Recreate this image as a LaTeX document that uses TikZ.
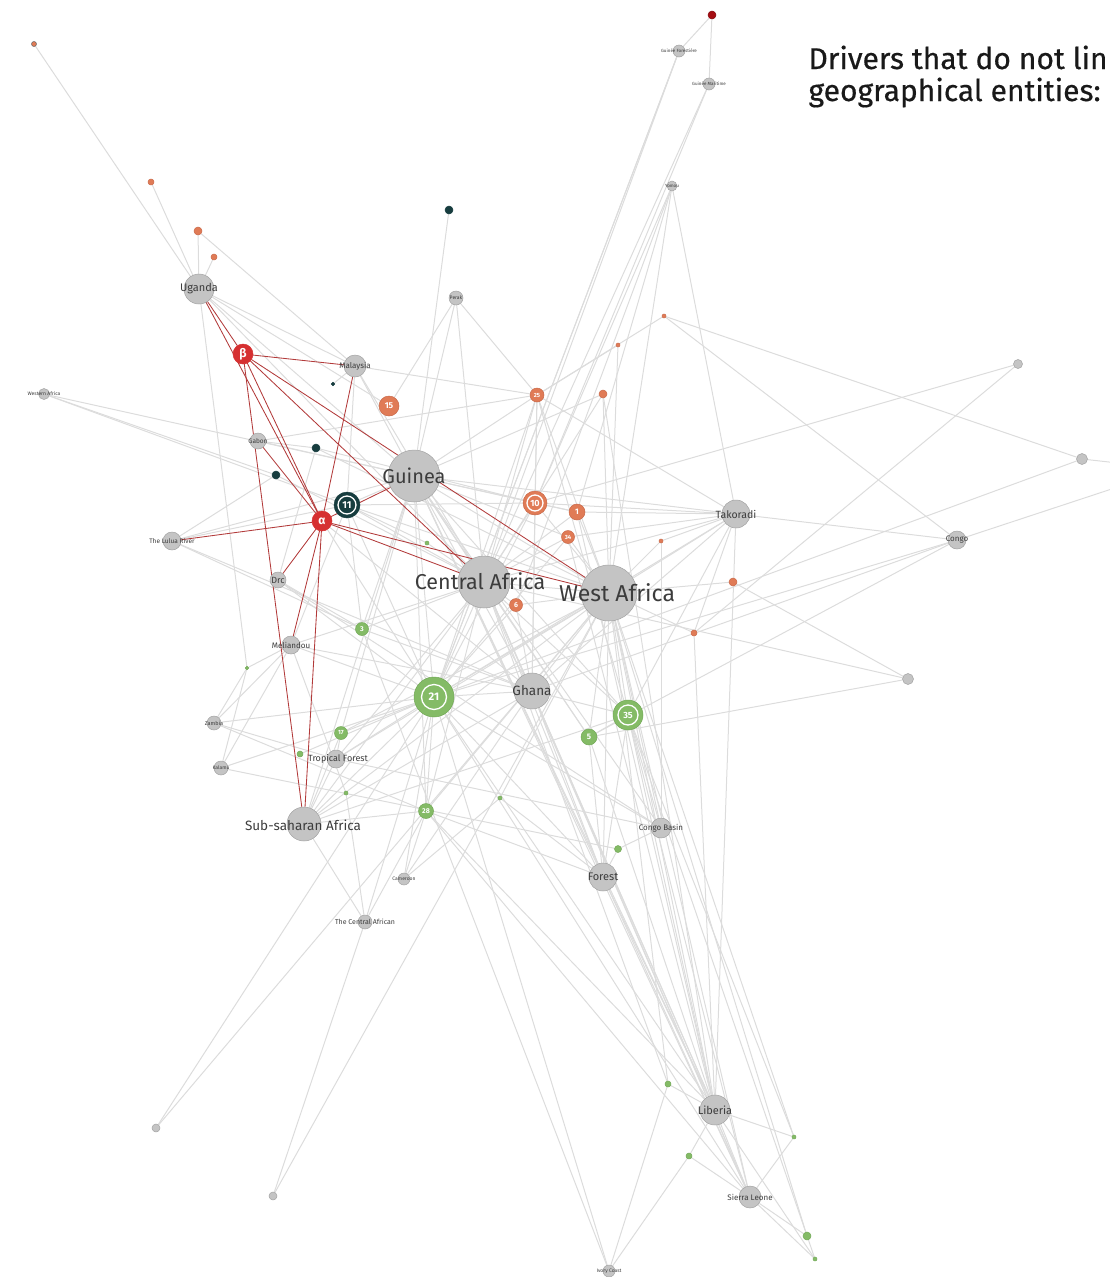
\documentclass[tikz,border=0pt]{standalone}
\usepackage{fontspec}
\setmainfont{Fira Sans}
\newfontfamily\titlefont[FakeBold=0.5]{Fira Sans}
\pgfdeclarelayer{bg}
\pgfsetlayers{bg,main}
\definecolor{edgec}{HTML}{DCDCDC}
\definecolor{redl}{HTML}{B23A3A}
\definecolor{ngray}{HTML}{C4C4C4}
\definecolor{ngrayd}{HTML}{A2A2A2}
\definecolor{orng}{HTML}{E07B56}
\definecolor{orngd}{HTML}{C9694A}
\definecolor{grn}{HTML}{84BB66}
\definecolor{grnd}{HTML}{72A857}
\definecolor{teal}{HTML}{173D3F}
\definecolor{redn}{HTML}{D63031}
\definecolor{dred}{HTML}{A50D12}
\definecolor{labelc}{HTML}{3C3C3C}
\newcommand\fsz[1]{\fontsize{#1}{#1}\selectfont}
\begin{document}
\begin{tikzpicture}[x=1pt,y=-1pt,
  nd/.style={circle,inner sep=0pt,outer sep=0pt,line width=0.5pt,minimum size={2*#1 pt}},
  gn/.style={nd=#1,fill=ngray,draw=ngrayd},
  on/.style={nd=#1,fill=orng,draw=orngd},
  grn/.style={nd=#1,fill=grn,draw=grnd},
  tn/.style={nd=#1,fill=teal,draw=teal},
  rn/.style={nd=#1,fill=redn,draw=redn},
  ring/.style={path picture={\draw[white,line width=1.3pt] (path picture bounding box.center) circle[radius=#1pt];}},
  nlab/.style 2 args={label={[text=labelc,font=\fsz{#2},inner sep=0pt]center:#1}},
  num/.style={text=white,font=\fsz{#1}\bfseries},
  edge/.style={draw=edgec,line width=1pt},
  redge/.style={draw=redl,line width=0.85pt},
  title/.style={anchor=base west,font=\titlefont\fsz{30},text=black!90}
]
\useasboundingbox (0,0) rectangle (1109,1277);
\clip (0,0) rectangle (1109,1277);

% title
\node[title] (t1) at (805,69) {Drivers that do not lin};
\node[title] (t2) at (805,101) {geographical entities:};

% gray (place) nodes
\node[gn=15,nlab={Uganda}{11}] (ug) at (199,289) {};
\node[gn=11,nlab={Malaysia}{8}] (my) at (355,366) {};
\node[gn=7,nlab={Perak}{5}] (pk) at (456,298) {};
\node[gn=5.5,nlab={Western Africa}{5}] (wz) at (44,394) {};
\node[gn=8,nlab={Gabon}{6.5}] (gb) at (258,441) {};
\node[gn=9,nlab={The Lulua River}{6.5}] (llr) at (172,541) {};
\node[gn=8,nlab={Drc}{9}] (drc) at (278,580) {};
\node[gn=9,nlab={Meliandou}{8}] (mel) at (291,645) {};
\node[gn=26,nlab={Guinea}{20}] (gui) at (414,476) {};
\node[gn=26] (ca) at (484,582) {};
\node[gn=28] (wa) at (609,593) {};
\node[gn=14,nlab={Takoradi}{10.5}] (tk) at (736,514) {};
\node[gn=9,nlab={Congo}{8}] (cg) at (957,540) {};
\node[gn=4.5] (gA) at (1018,364) {};
\node[gn=5.5] (gB) at (1082,459) {};
\node[gn=5.5] (gC) at (908,679) {};
\node[gn=18,nlab={Ghana}{13.5}] (gh) at (532,691) {};
\node[gn=7,nlab={Zambia}{5.5}] (zm) at (214,723) {};
\node[gn=7,nlab={Kalamu}{5}] (kl) at (221,768) {};
\node[gn=9] (tf) at (336,759) {};
\node[gn=17] (ssa) at (304,824) {};
\node[gn=6,nlab={Cameroon}{5}] (cm) at (404,879) {};
\node[gn=7,nlab={The Central African}{7}] (tca) at (365,922) {};
\node[gn=10,nlab={Congo Basin}{8}] (cb) at (661,828) {};
\node[gn=14,nlab={Forest}{11}] (fo) at (603,877) {};
\node[gn=15,nlab={Liberia}{11}] (lb) at (715,1110) {};
\node[gn=11,nlab={Sierra Leone}{8}] (sl) at (750,1197) {};
\node[gn=6,nlab={Ivory Coast}{5}] (ic) at (609,1271) {};
\node[gn=4] (gD) at (156,1128) {};
\node[gn=4] (gE) at (273,1196) {};
\node[gn=6,nlab={Guinée Forestière}{4.5}] (gf) at (679,51) {};
\node[gn=6,nlab={Guinée Maritime}{4.5}] (gm) at (709,84) {};
\node[gn=5,nlab={Yomou}{4.5}] (ym) at (672,186) {};

% orange driver nodes
\node[on=2.5,draw=black!60] (oa) at (34,44) {};
\node[on=3] (ob) at (151,182) {};
\node[on=4] (oc) at (198,231) {};
\node[on=3] (od) at (214,257) {};
\node[on=10,num=8.5] (o15) at (389,406) {15};
\node[on=7,num=6] (o25) at (537,395) {25};
\node[on=4] (oe) at (603,394) {};
\node[on=2] (of) at (618,345) {};
\node[on=2] (og) at (664,316) {};
\node[on=12,ring=8,num=9] (o10) at (535,503) {10};
\node[on=8,num=8] (o1) at (577,512) {1};
\node[on=6.5,num=6] (o34) at (568,537) {34};
\node[on=6.5,num=7] (o6) at (516,605) {6};
\node[on=4] (oh) at (733,582) {};
\node[on=3] (oi) at (694,633) {};
\node[on=2] (oj) at (661,541) {};
\node[nd=4,fill=dred,draw=dred!80!black] (dr) at (712,15) {};

% teal
\node[tn=4] (ta) at (449,210) {};
\node[tn=13,ring=9,num=10] (t11) at (347,505) {11};
\node[tn=4] (tb) at (316,448) {};
\node[tn=4] (tc) at (276,475) {};
\node[tn=1.8] (td) at (333,384) {};

% red alpha beta
\node[rn=10,num=12] (al) at (322,521) {α};
\node[rn=10,num=12] (be) at (243,354) {β};

% green
\node[grn=20,ring=12.5,num=11] (g21) at (434,697) {21};
\node[grn=15,ring=10,num=9] (g35) at (628,715) {35};
\node[grn=8,num=8] (g5) at (589,737) {5};
\node[grn=6.5,num=7] (g3) at (362,629) {3};
\node[grn=6.5,num=6] (g17) at (341,733) {17};
\node[grn=7.5,num=7] (g28) at (426,811) {28};
\node[grn=3] (sa) at (300,754) {};
\node[grn=1.8] (sb) at (247,668) {};
\node[grn=2] (sc) at (346,793) {};
\node[grn=2] (sd) at (427,543) {};
\node[grn=2] (se) at (500,798) {};
\node[grn=3.5] (sf) at (618,849) {};
\node[grn=3] (sg) at (668,1084) {};
\node[grn=3] (sh) at (689,1156) {};
\node[grn=2] (si) at (794,1137) {};
\node[grn=4] (sj) at (807,1236) {};
\node[grn=2] (sk) at (815,1259) {};

% labels drawn over big nodes
\node[text=labelc,font=\fsz{21.5},inner sep=0pt] (caL) at (480,581) {Central Africa};
\node[text=labelc,font=\fsz{23},inner sep=0pt] (waL) at (617,593) {West Africa};
\node[text=labelc,font=\fsz{9},inner sep=0pt] (tfL) at (338,759) {Tropical Forest};
\node[text=labelc,font=\fsz{13.5},inner sep=0pt] (ssaL) at (303,825) {Sub-saharan Africa};

\coordinate (offA) at (1145,478);
\coordinate (offB) at (1145,466);

\begin{pgfonlayer}{bg}
\foreach \a/\b in {
 ug/oa, ug/ob, ug/oc, ug/od, ug/o15, ug/ca, ug/my, ug/sb, ug/gui, oc/my, ta/gui,
 pk/o15, pk/o25, pk/ca, pk/gui,
 my/gui, my/o25, my/td, my/ca, my/t11,
 wz/gui, wz/tc, wz/t11,
 gb/tb, gb/o25, gb/gui, tb/drc, tb/o10, tb/wa, tc/llr, tc/ca,
 llr/gui, llr/t11, llr/g3, llr/gh,
 drc/g3, drc/g21, drc/cb,
 mel/zm, mel/kl, mel/g21, mel/sb, mel/gh, mel/ca,
 zm/sb, zm/g21, zm/g28, zm/tf, kl/sb, kl/g21, kl/sf,
 ssa/g21, ssa/ca, ssa/wa, ssa/gh, ssa/g17, ssa/g28, ssa/g35, ssa/tf, ssa/gui,
 tf/g17, tf/g21, tf/ca, tf/cb, tf/wa,
 g17/g21, g17/gui, g17/wa,
 g3/ca, g3/gui, g3/gh, g3/ic, g3/t11,
 sc/tca, sc/mel, sa/g21, sd/ca, sd/t11,
 g28/cm, g28/tca, g28/g21, g28/ca, g28/wa, g28/fo, g28/lb, g28/sl, g28/gui,
 cm/g21, cm/gh, tca/g21, tca/ssa, gE/tca, gE/wa, gD/g21, gD/wa,
 se/cm, se/wa, se/fo,
 gh/ca, gh/wa, gh/gui, gh/g21, gh/g35, gh/lb, gh/fo, gh/sl, gh/o10, gh/cg, gh/tk, al/gh,
 g21/gui, g21/ca, g21/wa, g21/cg, g21/gB, g21/lb, g21/sl, g21/fo, g21/ic, g21/o10,
 g21/o25, g21/gf, al/g21, g21/t11, g21/o34, g21/o6, g21/tk, g21/cb,
 g35/wa, g35/ca, g35/gui, g35/lb, g35/sl, g35/fo, g35/cb, g35/tk, g35/si, g35/g5, g35/o25, g35/sk,
 g5/wa, g5/ca, g5/gC, g5/fo, g5/lb, g5/cg, g5/gui,
 fo/sf, fo/wa, fo/ca, fo/lb, fo/sl, fo/gui,
 cb/sf, cb/wa, cb/gui,
 lb/wa, lb/ca, lb/gui, lb/sg, lb/sh, lb/si, lb/sl, lb/oi, lb/tk, lb/o1, lb/o34, lb/oe,
 sl/wa, sl/ca, sl/sh, sl/si, sl/sj, sl/sk, sl/gui,
 sj/wa, sk/lb, si/wa, sg/ic, sg/wa, sg/ca, sh/ic,
 o25/gui, o25/o10, o25/ca, o25/wa, o25/gh, o25/of, o25/tk,
 of/wa, oe/wa, oe/gui, oe/ca, og/gB, og/cg, og/o25,
 o10/gui, o10/tk, o10/ca, o10/wa, o10/gA, o10/ym, o10/gm, o10/o1, o10/t11,
 o1/tk, o1/wa, o1/gui, o1/ca, o1/ym,
 o34/wa, o34/ca, o34/gui, o34/tk,
 o6/ca, o6/wa, o6/ym, o6/gh,
 oj/tk, oj/wa, oj/cb, oh/wa, oh/gC, oi/gA, oi/tk, oi/wa,
 tk/cg, tk/wa, tk/ca, tk/gui, tk/ym, cg/offA, gB/offB, gC/ca,
 dr/gf, dr/gm, gf/ca, gf/g21, gm/ca, ym/wa,
 t11/gui, t11/ca, t11/wa, t11/mel,
 gui/ca, gui/wa, ca/wa}
 \draw[edge] (\a) -- (\b);
\foreach \a/\b in {ug/be, ug/al, be/my, be/ca, be/wa, be/al, be/ssa,
 al/gui, al/ca, al/wa, al/llr, al/drc, al/mel, al/ssa, al/my, al/gb}
 \draw[redge] (\a) -- (\b);
\end{pgfonlayer}
\end{tikzpicture}
\end{document}
